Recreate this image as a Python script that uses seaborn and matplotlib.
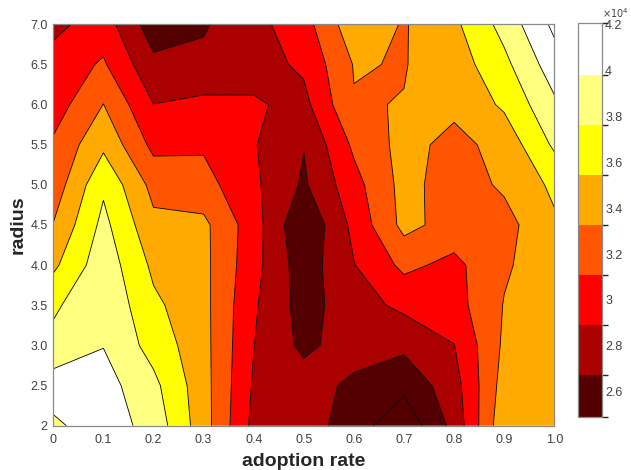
import numpy as np
import matplotlib
matplotlib.use("Agg")
import matplotlib.pyplot as plt
import matplotlib.cm as cm
from matplotlib.colors import ListedColormap, BoundaryNorm
import seaborn as sns

# ---------------- data (values in units of 1e4) ----------------
adoption_rate = [0.0, 0.1, 0.2, 0.3, 0.4, 0.5, 0.6, 0.7, 0.8, 0.9, 1.0]
radius = [2.0, 2.5, 3.0, 3.5, 4.0, 4.5, 5.0, 5.5, 6.0, 6.5, 7.0]

z_r2_0 = [3.94, 4.10, 3.90, 3.42, 2.83, 2.78, 2.56, 2.29, 2.74, 3.49, 3.45]
z_r2_5 = [4.09, 4.07, 3.82, 3.41, 2.865, 2.78, 2.62, 2.51, 2.80, 3.42, 3.44]
z_r3_0 = [3.831, 3.975, 3.68, 3.40, 2.895, 2.62, 2.78, 2.72, 2.885, 3.365, 3.43]
z_r3_5 = [3.725, 3.95, 3.59, 3.393, 2.92, 2.58, 2.80, 2.94, 3.02, 3.337, 3.43]
z_r4_0 = [3.50, 3.90, 3.50, 3.386, 2.965, 2.55, 2.882, 3.16, 3.05, 3.30, 3.45]
z_r4_5 = [3.335, 3.825, 3.382, 3.378, 2.988, 2.47, 2.95, 3.39, 3.24, 3.25, 3.51]
z_r5_0 = [3.20, 3.725, 3.257, 3.19, 2.933, 2.64, 3.03, 3.40, 3.22, 3.36, 3.59]
z_r5_5 = [3.142, 3.50, 3.05, 3.08, 2.906, 2.68, 3.15, 3.40, 3.26, 3.405, 3.80]
z_r6_0 = [3.00, 3.33, 2.893, 2.944, 2.918, 2.825, 3.315, 3.333, 3.38, 3.58, 3.943]
z_r6_5 = [2.98, 3.135, 2.724, 2.72, 2.80, 2.93, 3.338, 3.318, 3.43, 3.707, 4.10]
z_r7_0 = [2.83, 3.00, 2.55, 2.65, 2.82, 3.02, 3.47, 3.31, 3.50, 3.84, 4.25]

contour_levels = [2.454, 2.6723, 2.8905, 3.1088, 3.327, 3.5453, 3.7635, 3.9818, 4.2]
cbar_range = [2.49, 4.207]
cbar_ticks = [2.6, 2.8, 3.0, 3.2, 3.4, 3.6, 3.8, 4.0, 4.2]
cbar_tick_labels = ["2.6", "2.8", "3", "3.2", "3.4", "3.6", "3.8", "4", "4.2"]
x_tick_labels = ["0", "0.1", "0.2", "0.3", "0.4", "0.5", "0.6", "0.7", "0.8", "0.9", "1.0"]
y_tick_labels = ["2", "2.5", "3.0", "3.5", "4.0", "4.5", "5.0", "5.5", "6.0", "6.5", "7.0"]

# MATLAB hot(8)
hot8 = [(1/3, 0, 0), (2/3, 0, 0), (1, 0, 0), (1, 1/3, 0),
        (1, 2/3, 0), (1, 1, 0), (1, 1, 0.5), (1, 1, 1)]

# ---------------- style ----------------
sns.set_theme(style="white")
plt.rcParams["font.family"] = ["Liberation Sans", "DejaVu Sans"]

scale = 1e4
Z = np.array([z_r2_0, z_r2_5, z_r3_0, z_r3_5, z_r4_0, z_r4_5,
              z_r5_0, z_r5_5, z_r6_0, z_r6_5, z_r7_0]) * scale
X, Y = np.meshgrid(adoption_rate, radius)
levels = np.array(contour_levels) * scale

fig = plt.figure(figsize=(6.31, 4.70), dpi=100)
fig.patch.set_facecolor("white")
ax = fig.add_axes([53.3 / 631, (470 - 425.7) / 470, 501 / 631, 401.4 / 470])

fill_levels = np.concatenate([[2.0 * scale], levels, [4.6 * scale]])
fill_colors = [hot8[0]] + hot8 + [hot8[-1]]
ax.contourf(X, Y, Z, levels=fill_levels, colors=fill_colors, antialiased=True)
ax.contour(X, Y, Z, levels=levels, colors="black", linewidths=0.6)

ax.set_xlim(0, 1)
ax.set_ylim(2, 7)
ax.set_xticks(adoption_rate)
ax.set_xticklabels(x_tick_labels)
ax.set_yticks(radius)
ax.set_yticklabels(y_tick_labels)
ax.tick_params(direction="in", top=True, right=True, length=4, width=0.6,
               color="#8a8a8a", labelcolor="#404040", labelsize=9)
ax.tick_params(axis="x", pad=6)
ax.tick_params(axis="y", pad=4)
for s in ax.spines.values():
    s.set_color("#8a8a8a")
    s.set_linewidth(0.9)
ax.set_xlabel("adoption rate", fontsize=14, fontweight="bold", color="#262626", labelpad=5)
ax.set_ylabel("radius", fontsize=14, fontweight="bold", color="#262626", labelpad=3)

# ---------------- colorbar ----------------
cax = fig.add_axes([578.3 / 631, (470 - 416.7) / 470, 24 / 631, 393.4 / 470])
bounds = np.array([cbar_range[0]] + contour_levels[1:-1] + [cbar_range[1]]) * scale
norm = BoundaryNorm(bounds, len(hot8))
sm = cm.ScalarMappable(norm=norm, cmap=ListedColormap(hot8))
cb = fig.colorbar(sm, cax=cax, spacing="proportional",
                  ticks=[t * scale for t in cbar_ticks])
cb.ax.set_yticklabels(cbar_tick_labels)
cb.ax.tick_params(direction="in", length=3, width=0.6, color="#8a8a8a",
                  labelcolor="#404040", labelsize=9, pad=2)
cb.outline.set_edgecolor("#8a8a8a")
cb.outline.set_linewidth(0.9)
fig.text(602 / 631, 1 - 18 / 470, r"$\times10^{4}$", fontsize=7, color="#404040",
         ha="left", va="baseline")

fig.savefig("out.png", dpi=100, facecolor="white")
